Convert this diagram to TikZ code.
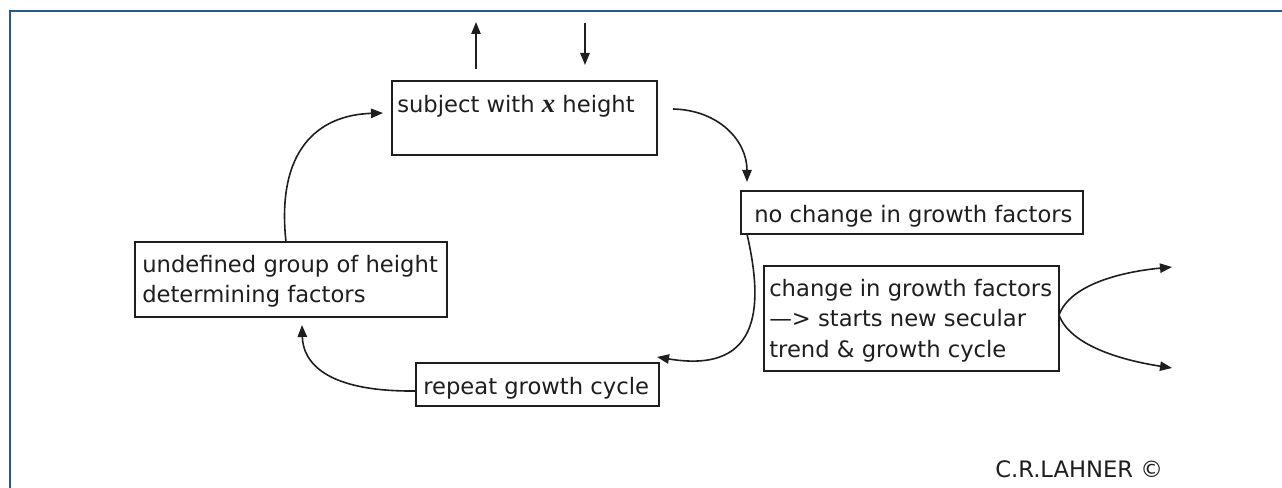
\documentclass[tikz,border=0pt]{standalone}
\usepackage{fontspec}
\setmainfont{DejaVu Sans}
\newfontfamily\serifx{Liberation Serif}
\usetikzlibrary{arrows.meta}
\definecolor{frameblue}{RGB}{40,90,140}
\definecolor{ink}{RGB}{30,30,30}
\begin{document}
\begin{tikzpicture}[x=0.75pt,y=-0.75pt,
  box/.style={draw=ink,line width=1.4pt,rectangle,inner sep=0pt},
  txt/.style={anchor=base west,inner sep=0pt,text=ink,font=\fontsize{17pt}{22.5pt}\selectfont},
  conn/.style={draw=ink,line width=1.2pt,-{Triangle[length=9pt,width=7pt]}}]
\useasboundingbox (0,0) rectangle (1282,488);
% frame
\draw[frameblue,line width=1.5pt] (10,488) -- (10,11) -- (1282,11);
% boxes
\node[box,minimum width=198.75pt,minimum height=55.5pt] (b1) at (524.5,118) {};
\node[box,minimum width=256.5pt,minimum height=32.25pt] (b2) at (912,212.5) {};
\node[box,minimum width=221.25pt,minimum height=78.75pt] (b3) at (911.5,318.5) {};
\node[box,minimum width=182.25pt,minimum height=32.25pt] (b4) at (537.5,384.5) {};
\node[box,minimum width=234pt,minimum height=56.25pt] (b5) at (291,279.5) {};
% texts
\node[txt] (t1) at (397,113) {subject with {\serifx\itshape\bfseries\fontsize{20pt}{22pt}\selectfont x} height};
\node[txt] (t2) at (754,223) {no change in growth factors};
\node[txt] (t3a) at (769,297) {change in growth factors};
\node[txt] (t3b) at (769,327) {—> starts new secular};
\node[txt] (t3c) at (769,358) {trend \& growth cycle};
\node[txt] (t4) at (423,394) {repeat growth cycle};
\node[txt] (t5a) at (142,273) {undefined group of height};
\node[txt] (t5b) at (142,303) {determining factors};
\node[txt] (cr) at (995,477) {C.R.LAHNER ©};
% coordinates
\coordinate (upS) at (476,69);
\coordinate (upE) at (476,22);
\coordinate (dnS) at (585,23);
\coordinate (dnE) at (585,65);
\coordinate (a1s) at (673,109);
\coordinate (a1e) at (747,182);
\coordinate (a2s) at (747,234);
\coordinate (a2e) at (657,357);
\coordinate (a3s) at (416,391);
\coordinate (a3e) at (302,325);
\coordinate (a4s) at (286,242);
\coordinate (a4e) at (383,113);
\coordinate (fork) at (1059,315);
\coordinate (fu) at (1172,267);
\coordinate (fd) at (1172,368);
% connectors
\draw[conn] (upS) -- (upE);
\draw[conn] (dnS) -- (dnE);
\draw[conn] (a1s) .. controls (718,110) and (747,140) .. (a1e);
\draw[conn] (a2s) .. controls (762,300) and (765,375) .. (a2e);
\draw[conn] (a3s) .. controls (325,392) and (303,362) .. (a3e);
\draw[conn] (a4s) .. controls (276,150) and (318,115) .. (a4e);
\draw[conn] (fork) .. controls (1070,285) and (1120,272) .. (fu);
\draw[conn] (fork) .. controls (1070,345) and (1120,360) .. (fd);
\end{tikzpicture}
\end{document}
